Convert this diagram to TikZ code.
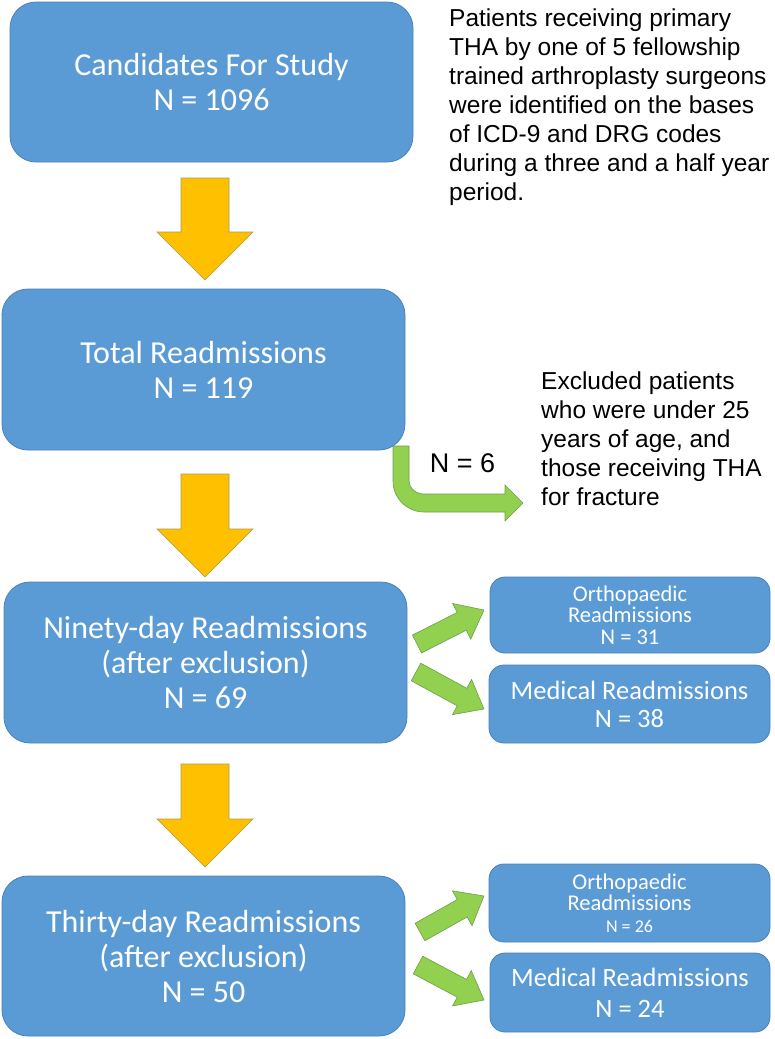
\documentclass[tikz,border=0pt]{standalone}
\usepackage{fontspec}
\usetikzlibrary{calc}
\newfontfamily\carlito{Carlito}
\newfontfamily\arialf{Liberation Sans}
\definecolor{boxblue}{HTML}{5B9BD5}
\definecolor{boxedge}{HTML}{4A80B8}
\definecolor{orangefill}{HTML}{FFC000}
\definecolor{orangeedge}{HTML}{A89A5A}
\definecolor{greenfill}{HTML}{92D050}
\definecolor{greenedge}{HTML}{6E9E48}
\tikzset{
  bigbox/.style={draw=boxedge, line width=0.8pt, fill=boxblue, rounded corners=26pt,
    text=white, align=center, inner sep=0pt, minimum width=403pt, minimum height=160pt,
    font=\carlito\fontsize{32}{35}\selectfont},
  smallbox/.style={draw=boxedge, line width=0.8pt, fill=boxblue, rounded corners=15pt,
    text=white, align=center, inner sep=0pt, minimum width=280pt, minimum height=77pt},
  notetext/.style={align=left, inner sep=0pt, anchor=north west, text=black,
    font=\arialf\fontsize{24.5}{29}\selectfont},
  orangearrow/.style={fill=orangefill, draw=orangeedge, line width=0.6pt},
  greenarrow/.style={fill=greenfill, draw=greenedge, line width=0.6pt},
}
% block arrow from #1 to #2: half shaft #3, half head #4, head length #5, style #6
\newcommand\BlockArrow[6]{%
  \coordinate (ba-h) at ($(#2)!#5!(#1)$);
  \draw[#6] ($(#1)!#3!90:(#2)$) -- ($(ba-h)!#3!-90:(#1)$) -- ($(ba-h)!#4!-90:(#1)$)
    -- (#2) -- ($(ba-h)!#4!90:(#1)$) -- ($(ba-h)!#3!90:(#1)$) -- ($(#1)!#3!-90:(#2)$) -- cycle;}
\begin{document}
\begin{tikzpicture}[x=1pt,y=-1pt]
\useasboundingbox (0,0) rectangle (774,1039);

% bent arrow (drawn first, sits under box 2)
\coordinate (bentstart) at (401,452);
\coordinate (benttip) at (523,503);
\draw[greenarrow] (393,446) -- (393,481) .. controls (393,498) and (407,512) .. (424,512)
  -- (505,512) -- (505,521) -- (benttip) -- (505,485) -- (505,494) -- (424,494)
  .. controls (416,494) and (409,488) .. (409,481) -- (409,446) -- cycle;

% main boxes
\node[bigbox] (b1) at (211.5,82) {Candidates For Study\\N = 1096};
\node[bigbox, minimum height=161pt] (b2) at (203.5,369.5) {Total Readmissions\\N = 119};
\node[bigbox, minimum height=161pt] (b3) at (205.5,662.5) {Ninety-day Readmissions\\(after exclusion)\\N = 69};
\node[bigbox] (b4) at (203.5,956) {Thirty-day Readmissions\\(after exclusion)\\N = 50};

% side boxes
\node[smallbox, minimum height=76pt, font=\carlito\fontsize{22.5}{21.5}\selectfont] (o1) at (630,615) {Orthopaedic\\Readmissions\\N = 31};
\node[smallbox, minimum width=281pt, minimum height=78pt, font=\carlito\fontsize{26.5}{28}\selectfont] (m1) at (629.5,704) {Medical Readmissions\\N = 38};
\node[smallbox, minimum width=281pt, minimum height=78pt, font=\carlito\fontsize{22.5}{21.5}\selectfont] (o2) at (629.5,903) {Orthopaedic\\Readmissions\\{\fontsize{18}{18}\selectfont N = 26}};
\node[smallbox, minimum height=79pt, font=\carlito\fontsize{26.5}{31}\selectfont] (m2) at (630,992.5) {Medical Readmissions\\N = 24};

% notes
\node[notetext] (note1) at (449,9) {Patients receiving primary\\THA by one of 5 fellowship\\trained arthroplasty surgeons\\were identified on the bases\\of ICD-9 and DRG codes\\during a three and a half year\\period.};
\node[notetext] (note2) at (541,372) {Excluded patients\\who were under 25\\years of age, and\\those receiving THA\\for fracture};
\node[font=\arialf\fontsize{27}{30}\selectfont, inner sep=0pt] (n6) at (462.5,463) {N = 6};

% orange arrows
\coordinate (a1s) at (205,178); \coordinate (a1e) at (205,280);
\coordinate (a2s) at (205,474); \coordinate (a2e) at (205,577);
\coordinate (a3s) at (205,764); \coordinate (a3e) at (205,867);
\BlockArrow{a1s}{a1e}{24pt}{48pt}{48pt}{orangearrow}
\BlockArrow{a2s}{a2e}{24pt}{48pt}{48pt}{orangearrow}
\BlockArrow{a3s}{a3e}{24pt}{48pt}{48pt}{orangearrow}

% green arrows
\coordinate (g1s) at (417,644); \coordinate (g1e) at (484,610);
\coordinate (g2s) at (416,672); \coordinate (g2e) at (484,709);
\coordinate (g3s) at (420,932); \coordinate (g3e) at (484,896);
\coordinate (g4s) at (418,965); \coordinate (g4e) at (484,1000);
\BlockArrow{g1s}{g1e}{10pt}{20pt}{25pt}{greenarrow}
\BlockArrow{g2s}{g2e}{10pt}{20pt}{25pt}{greenarrow}
\BlockArrow{g3s}{g3e}{10pt}{20pt}{25pt}{greenarrow}
\BlockArrow{g4s}{g4e}{10pt}{20pt}{25pt}{greenarrow}
\end{tikzpicture}
\end{document}
